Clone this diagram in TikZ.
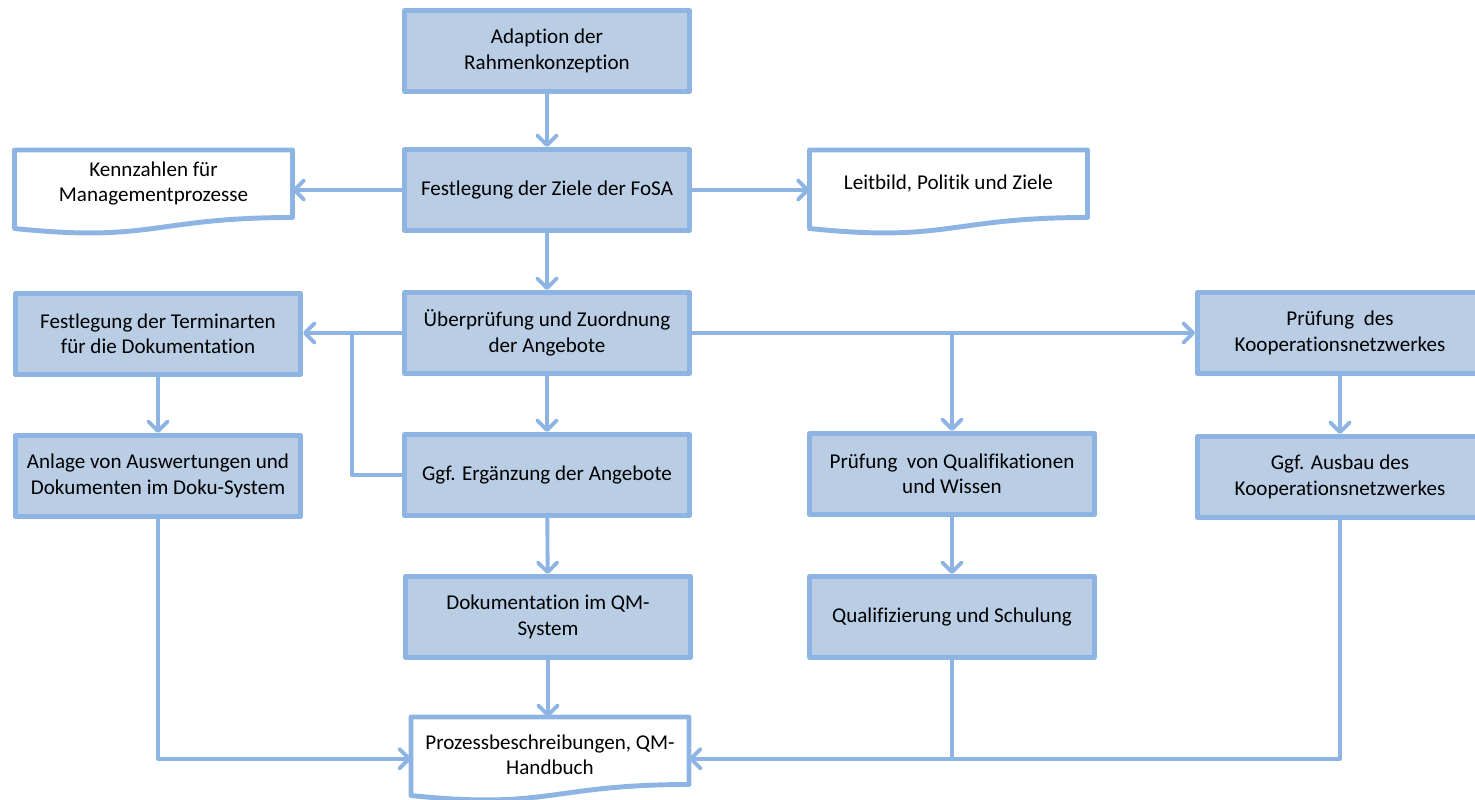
\documentclass[tikz,border=0pt]{standalone}
\usepackage{fontspec}
\setmainfont{Carlito}[Ligatures=NoCommon]
\usetikzlibrary{arrows.meta}

\begin{document}
\begin{tikzpicture}[x=0.02cm, y=-0.02cm, font=\fontsize{12}{14.5}\selectfont, line join=round, line cap=round,
	box/.style={draw=rand, fill=feld, line width=2.8pt, minimum width=5.7cm, minimum height=1.62cm, align=center, inner sep=2pt},
	docbox/.style={minimum width=5.56cm, minimum height=1.35cm, align=center, inner sep=2pt, outer sep=0pt},
	txt/.style={align=center},
	linie/.style={draw=rand, line width=2.2pt},
	pfeil/.style={linie, -{Straight Barb[round,length=5.5pt,width=11pt]}}]
	\definecolor{feld}{HTML}{B9CDE5}
	\definecolor{rand}{HTML}{8EB4E3}
	\def\dokument#1{\draw[rand, line width=2.8pt, fill=white](#1.north west)--(#1.north east)--(#1.south east)
		.. controls (#1.south) and ([yshift=-0.51cm]#1.south) .. ([yshift=-0.22cm]#1.south west)--cycle;}
	\useasboundingbox (0,0) rectangle (1475,799);
	
	\node[box] (adapt) at (547,51) {Adaption der\\Rahmenkonzeption};
	\node[box] (ziele) at (547,190) {Festlegung der Ziele der FoSA};
	\node[docbox, anchor=north] (kennz) at (153.5,150) {};
	\node[docbox, anchor=north] (leitbild) at (948.5,150) {};
	\dokument{kennz}
	\dokument{leitbild}
	\node[txt] at (kennz) {Kennzahlen für\\Managementprozesse};
	\node[txt] at (leitbild) {Leitbild, Politik und Ziele};
	
	\node[box] (ueber) at (547,333) {Überprüfung und Zuordnung\\der Angebote};
	\node[box] (termin) at (158,334) {Festlegung der Terminarten\\für die Dokumentation};
	\node[box] (koop) at (1340,333) {Prüfung~ des\\Kooperationsnetzwerkes};
	\node[box] (anlage) at (158,476) {Anlage von Auswertungen und\\Dokumenten im Doku-System};
	\node[box] (ergaenz) at (547,475) {Ggf. Ergänzung der Angebote};
	\node[box] (quali) at (952,474) {Prüfung~ von Qualifikationen\\und Wissen};
	\node[box] (ausbau) at (1340,477) {Ggf. Ausbau des\\Kooperationsnetzwerkes};
	\node[box] (doku) at (548,617) {Dokumentation im QM-\\System};
	\node[box] (schul) at (952,617) {Qualifizierung und Schulung};
	\node[docbox, anchor=north] (prozess) at (550,717) {};
	\dokument{prozess}
	\node[txt] at ([yshift=-0.08cm]prozess) {Prozessbeschreibungen, QM-\\Handbuch};
	
	\coordinate (abzw) at (352,333);
	\coordinate (einL) at ([yshift=-0.16cm]prozess.west);
	\coordinate (einR) at ([yshift=-0.16cm]prozess.east);
	
	\draw[pfeil] (adapt)--(ziele);
	\draw[pfeil] (ziele.west)--(ziele.west -| kennz.east);
	\draw[pfeil] (ziele.east)--(ziele.east -| leitbild.west);
	\draw[pfeil] (ziele)--(ueber);
	\draw[pfeil] (ueber.west)--(ueber.west -| termin.east);
	\draw[linie] (ergaenz.west) -| (abzw);
	\draw[pfeil] (ueber)--(ergaenz);
	\draw[pfeil] (ueber.east)--(ueber.east -| koop.west);
	\draw[pfeil] (ueber.east -| quali.north)--(quali.north);
	\draw[pfeil] (termin)--(anlage);
	\draw[pfeil] (koop)--(ausbau);
	\draw[pfeil] (ergaenz)--(doku);
	\draw[pfeil] (quali)--(schul);
	\draw[pfeil] (doku.south)--(doku.south |- prozess.north);
	\draw[pfeil] (anlage.south) |- (einL);
	\draw[linie] (schul.south)--(schul.south |- einR);
	\draw[pfeil] (ausbau.south) |- (einR);
\end{tikzpicture}
\end{document}
